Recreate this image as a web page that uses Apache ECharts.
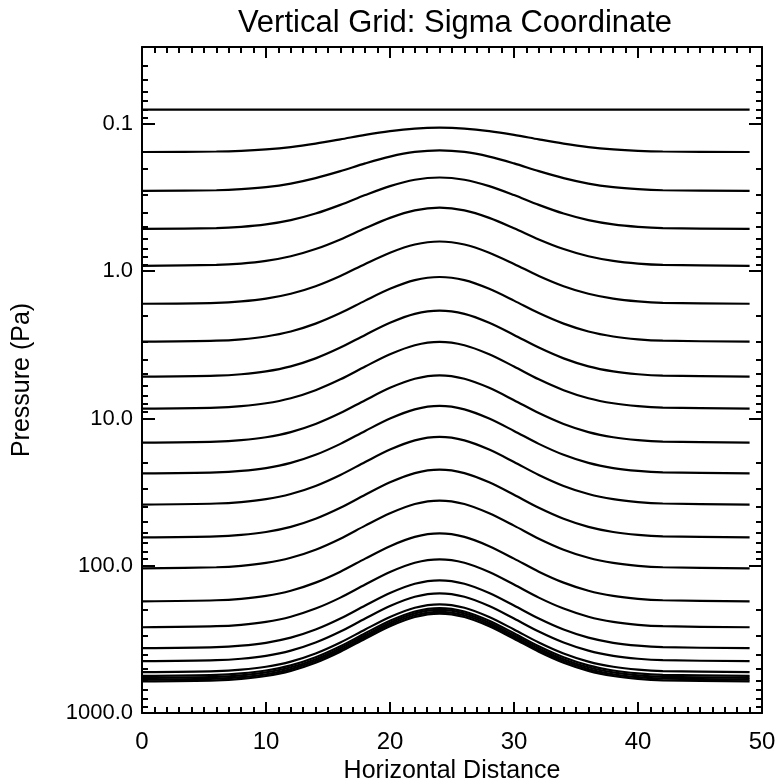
<!DOCTYPE html>
<html>
<head>
<meta charset="utf-8">
<script src="https://cdn.jsdelivr.net/npm/echarts@6/dist/echarts.min.js"></script>
<style>
html,body{margin:0;padding:0;background:#fff;}
#chart{width:777px;height:782px;}
</style>
</head>
<body>
<div id="chart"></div>
<script>
// Horizontal sample positions (distance units)
var xPositions = [0, 6, 8, 10, 12, 14, 16, 18, 20, 22, 24, 26, 28, 30, 32, 34, 36, 38, 40, 42, 49];

// Pressure (Pa) of each sigma level at the sample positions
var level01 = [0.08, 0.08, 0.08, 0.08, 0.08, 0.08, 0.08, 0.08, 0.08, 0.08, 0.08, 0.08, 0.08, 0.08, 0.08, 0.08, 0.08, 0.08, 0.08, 0.08, 0.08];
var level02 = [0.155, 0.1538, 0.1522, 0.1489, 0.1436, 0.1360, 0.1272, 0.1185, 0.1117, 0.1074, 0.1060, 0.1074, 0.1117, 0.1185, 0.1272, 0.1360, 0.1436, 0.1489, 0.1522, 0.1538, 0.155];
var level03 = [0.285, 0.2817, 0.2772, 0.2684, 0.2538, 0.2331, 0.2089, 0.1852, 0.1665, 0.1548, 0.1509, 0.1548, 0.1665, 0.1852, 0.2089, 0.2331, 0.2538, 0.2684, 0.2772, 0.2817, 0.285];
var level04 = [0.516, 0.509, 0.4994, 0.4807, 0.4497, 0.4057, 0.3542, 0.3037, 0.264, 0.2391, 0.2309, 0.2391, 0.264, 0.3037, 0.3542, 0.4057, 0.4497, 0.4807, 0.4994, 0.509, 0.516];
var level05 = [0.919, 0.9056, 0.8871, 0.851, 0.7915, 0.7067, 0.6077, 0.5104, 0.4341, 0.3862, 0.3703, 0.3862, 0.4341, 0.5104, 0.6077, 0.7067, 0.7915, 0.851, 0.8871, 0.9056, 0.919];
var level06 = [1.663, 1.638, 1.603, 1.535, 1.422, 1.263, 1.076, 0.892, 0.748, 0.658, 0.628, 0.658, 0.748, 0.892, 1.076, 1.263, 1.422, 1.535, 1.603, 1.638, 1.663];
var level07 = [3.01, 2.963, 2.899, 2.773, 2.565, 2.269, 1.923, 1.583, 1.316, 1.149, 1.094, 1.149, 1.316, 1.583, 1.923, 2.269, 2.565, 2.773, 2.899, 2.963, 3.01];
var level08 = [5.20, 5.118, 5.005, 4.785, 4.422, 3.905, 3.30, 2.707, 2.241, 1.949, 1.852, 1.949, 2.241, 2.707, 3.30, 3.905, 4.422, 4.785, 5.005, 5.118, 5.20];
var level09 = [8.57, 8.434, 8.247, 7.882, 7.28, 6.422, 5.42, 4.435, 3.663, 3.179, 3.018, 3.179, 3.663, 4.435, 5.42, 6.422, 7.28, 7.882, 8.247, 8.434, 8.57];
var level10 = [14.57, 14.34, 14.02, 13.40, 12.37, 10.90, 9.19, 7.51, 6.19, 5.37, 5.09, 5.37, 6.19, 7.51, 9.19, 10.90, 12.37, 13.40, 14.02, 14.34, 14.57];
var level11 = [23.6, 23.22, 22.71, 21.70, 20.03, 17.65, 14.87, 12.15, 10.01, 8.67, 8.22, 8.67, 10.01, 12.15, 14.87, 17.65, 20.03, 21.70, 22.71, 23.22, 23.6];
var level12 = [38.4, 37.79, 36.94, 35.30, 32.58, 28.71, 24.18, 19.74, 16.25, 14.07, 13.34, 14.07, 16.25, 19.74, 24.18, 28.71, 32.58, 35.30, 36.94, 37.79, 38.4];
var level13 = [64.2, 63.17, 61.76, 59.01, 54.45, 47.98, 40.41, 32.97, 27.14, 23.48, 22.27, 23.48, 27.14, 32.97, 40.41, 47.98, 54.45, 59.01, 61.76, 63.17, 64.2];
var level14 = [104.1, 102.4, 100.2, 95.7, 88.3, 77.8, 65.5, 53.4, 44.0, 38.05, 36.07, 38.05, 44.0, 53.4, 65.5, 77.8, 88.3, 95.7, 100.2, 102.4, 104.1];
var level15 = [174.3, 171.5, 167.7, 160.2, 147.8, 130.2, 109.7, 89.45, 73.6, 63.67, 60.36, 63.67, 73.6, 89.45, 109.7, 130.2, 147.8, 160.2, 167.7, 171.5, 174.3];
var level16 = [261.6, 257.4, 251.7, 240.4, 221.8, 195.4, 164.6, 134.2, 110.4, 95.5, 90.6, 95.5, 110.4, 134.2, 164.6, 195.4, 221.8, 240.4, 251.7, 257.4, 261.6];
var level17 = [363, 357.2, 349.2, 333.6, 307.8, 271.2, 228.3, 186.2, 153.2, 132.5, 125.6, 132.5, 153.2, 186.2, 228.3, 271.2, 307.8, 333.6, 349.2, 357.2, 363];
var level18 = [445, 437.9, 428.1, 409.0, 377.4, 332.4, 279.9, 228.3, 187.8, 162.4, 154.0, 162.4, 187.8, 228.3, 279.9, 332.4, 377.4, 409.0, 428.1, 437.9, 445];
var level19 = [528, 519.6, 507.9, 485.2, 447.7, 394.4, 332.1, 270.9, 222.8, 192.7, 182.7, 192.7, 222.8, 270.9, 332.1, 394.4, 447.7, 485.2, 507.9, 519.6, 528];
var level20 = [560, 551.0, 538.7, 514.6, 474.9, 418.3, 352.2, 287.3, 236.3, 204.4, 193.8, 204.4, 236.3, 287.3, 352.2, 418.3, 474.9, 514.6, 538.7, 551.0, 560];
var level21 = [577, 567.8, 555.1, 530.3, 489.3, 431.0, 362.9, 296.0, 243.5, 210.6, 199.6, 210.6, 243.5, 296.0, 362.9, 431.0, 489.3, 530.3, 555.1, 567.8, 577];
var level22 = [594, 584.5, 571.4, 545.9, 503.7, 443.7, 373.6, 304.7, 250.7, 216.8, 205.5, 216.8, 250.7, 304.7, 373.6, 443.7, 503.7, 545.9, 571.4, 584.5, 594];
var level23 = [610, 600.2, 586.8, 560.6, 517.3, 455.7, 383.7, 312.9, 257.4, 222.7, 211.1, 222.7, 257.4, 312.9, 383.7, 455.7, 517.3, 560.6, 586.8, 600.2, 610];

var levels = [level01, level02, level03, level04, level05, level06, level07, level08, level09, level10,
  level11, level12, level13, level14, level15, level16, level17, level18, level19, level20,
  level21, level22, level23];

// Tick values
var xTickLabels = [0, 10, 20, 30, 40, 50];
var yMajorTicks = [0.1, 1, 10, 100, 1000];
var yMajorLabels = ['0.1', '1.0', '10.0', '100.0', '1000.0'];
var yMinorTicks = [0.03, 0.04, 0.05, 0.06, 0.07, 0.08, 0.09,
  0.2, 0.3, 0.4, 0.5, 0.6, 0.7, 0.8, 0.9,
  2, 3, 4, 5, 6, 7, 8, 9,
  20, 30, 40, 50, 60, 70, 80, 90,
  200, 300, 400, 500, 600, 700, 800, 900];

var FONT = '"Liberation Sans", Arial, Helvetica, sans-serif';
var chart = echarts.init(document.getElementById('chart'), null, {renderer: 'canvas'});

function makeY(pos, major, showLabel, showName) {
  var ax = {
    type: 'log', logBase: 10, min: 0.03, max: 1000, inverse: true,
    position: pos,
    axisLine: {show: major, onZero: false, lineStyle: {color: '#000', width: 2}},
    axisTick: {show: true, inside: true, length: major ? 13 : 6,
      lineStyle: {color: '#000', width: 2},
      customValues: major ? yMajorTicks : yMinorTicks},
    axisLabel: {show: showLabel, margin: 9, color: '#000', fontSize: 22, fontFamily: FONT,
      customValues: yMajorTicks,
      formatter: function (v) {
        for (var i = 0; i < yMajorTicks.length; i++) {
          if (Math.abs(Math.log10(v) - Math.log10(yMajorTicks[i])) < 1e-6) return yMajorLabels[i];
        }
        return '';
      }},
    splitLine: {show: false},
    minorTick: {show: false},
    minorSplitLine: {show: false}
  };
  if (showName) {
    ax.name = 'Pressure (Pa)';
    ax.nameLocation = 'middle';
    ax.nameGap = 107;
    ax.nameRotate = 90;
    ax.nameTextStyle = {color: '#000', fontSize: 25, fontFamily: FONT};
  }
  return ax;
}

function makeX(pos, showLabel) {
  var ax = {
    type: 'value', min: 0, max: 50, interval: 10, position: pos,
    axisLine: {show: true, onZero: false, lineStyle: {color: '#000', width: 2}},
    axisTick: {show: true, inside: true, length: 11, lineStyle: {color: '#000', width: 2}},
    minorTick: {show: true, splitNumber: 10, length: 6, lineStyle: {color: '#000', width: 2}},
    axisLabel: {show: showLabel, margin: 17, color: '#000', fontSize: 24, fontFamily: FONT,
      customValues: xTickLabels},
    splitLine: {show: false},
    minorSplitLine: {show: false}
  };
  if (showLabel) {
    ax.name = 'Horizontal Distance';
    ax.nameLocation = 'middle';
    ax.nameGap = 44;
    ax.nameTextStyle = {color: '#000', fontSize: 25, fontFamily: FONT};
  }
  return ax;
}

var series = levels.map(function (lv, k) {
  return {
    name: 'Level ' + (k + 1),
    type: 'line',
    xAxisIndex: 0,
    yAxisIndex: 0,
    showSymbol: false,
    symbol: 'none',
    smooth: 0.3,
    silent: true,
    lineStyle: {color: '#000', width: 2.2},
    data: xPositions.map(function (x, i) { return [x, lv[i]]; })
  };
});

chart.setOption({
  animation: false,
  backgroundColor: '#fff',
  title: {
    text: 'Vertical Grid: Sigma Coordinate',
    left: 450, top: 3, textAlign: 'center',
    textStyle: {color: '#000', fontSize: 31, fontWeight: 'normal', fontFamily: FONT}
  },
  grid: {left: 142, right: 15, top: 47, bottom: 69, containLabel: false, outerBoundsMode: 'none'},
  xAxis: [makeX('bottom', true), makeX('top', false)],
  yAxis: [makeY('left', true, true, true), makeY('left', false, false, false),
          makeY('right', true, false, false), makeY('right', false, false, false)],
  series: series
});
</script>
</body>
</html>
